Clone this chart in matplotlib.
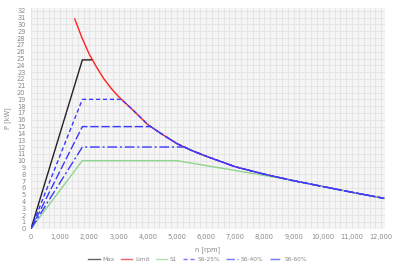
import matplotlib
matplotlib.use('Agg')
import matplotlib.pyplot as plt
from matplotlib.ticker import FuncFormatter, MultipleLocator

# Kurve der Leistungsgrenze (Limit)
n_limit = [1500, 1750, 2000, 2250, 2500, 2750, 3000, 3250, 3500, 4000, 4500, 5000,
           5500, 6000, 7000, 8000, 9000, 10000, 11000, 12100]
p_limit = [30.8, 28.0, 25.6, 23.7, 22.0, 20.6, 19.4, 18.4, 17.4, 15.3, 13.85, 12.5,
           11.5, 10.65, 9.1, 8.0, 7.05, 6.2, 5.35, 4.46]

# Max
n_max = [0, 1760, 2105]
p_max = [0, 24.8, 24.8]

# S1
n_s1 = [0, 1760, 5000, 8800]
p_s1 = [0, 10, 10, 7.24]

# S6: Plateauwert und Ende des Plateaus, danach entlang der Grenze
s6_names = ['S6-25%', 'S6-40%', 'S6-60%']
s6_level = [19, 15, 12]
s6_end = [3100, 4100, 5250]
n_knee = 1760

fig = plt.figure(figsize=(4, 2.71), dpi=100)
ax = fig.add_axes([0.0775, 0.156, 0.885, 0.814])
ax.set_facecolor('#f5f5f5')

blue = '#3a3aff'
ax.plot(n_max, p_max, color='#222222', lw=1.0, label='Max')
ax.plot(n_limit, p_limit, color='#ff2020', lw=1.0, label='Limit')

tail_n = [n for n in n_limit if n > 8800]
tail_p = [p for n, p in zip(n_limit, p_limit) if n > 8800]
ax.plot(n_s1 + tail_n, p_s1 + tail_p, color='#8fd48f', lw=1.0, label='S1')

styles = [(3, 2), (6, 2), (7, 2, 1.5, 2)]
for name, lvl, end, ds in zip(s6_names, s6_level, s6_end, styles):
    xs = [0, n_knee, end] + [n for n in n_limit if n > end]
    ys = [0, lvl, lvl] + [p for n, p in zip(n_limit, p_limit) if n > end]
    ax.plot(xs, ys, color=blue, lw=1.0, dashes=ds, label=name)

ax.set_xlim(0, 12130)
ax.set_ylim(0, 32.4)
ax.xaxis.set_major_locator(MultipleLocator(1000))
ax.xaxis.set_minor_locator(MultipleLocator(200))
ax.yaxis.set_major_locator(MultipleLocator(1))
ax.xaxis.set_major_formatter(FuncFormatter(lambda v, p: f'{int(v):,}'))
ax.grid(True, which='both', color='#e2e2e2', lw=0.6)
ax.set_axisbelow(True)
for s in ax.spines.values():
    s.set_visible(False)
ax.tick_params(which='both', length=0, labelsize=4.8, colors='#888888', pad=4)

ax.set_xlabel('n [rpm]', fontsize=4.8, color='#888888', labelpad=4)
ax.set_ylabel('P [kW]', fontsize=4.8, color='#888888', labelpad=4)

leg = ax.legend(loc='upper center', bbox_to_anchor=(0.47, -0.105), ncol=6, frameon=False,
                fontsize=4.2, labelcolor='#888888', handlelength=2.0, columnspacing=1.0,
                handletextpad=0.5)
for h in leg.get_lines():
    h.set_alpha(0.7)

fig.savefig('out.png', dpi=100)
